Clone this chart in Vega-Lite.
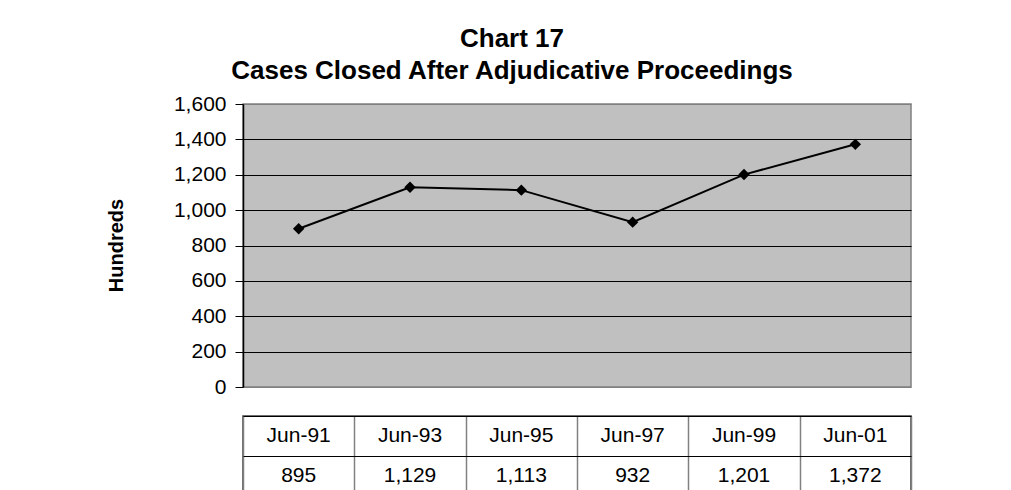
{
  "$schema": "https://vega.github.io/schema/vega-lite/v6.json",
  "background": "white",
  "padding": {"left": 105, "top": 26, "right": 5, "bottom": 0},
  "config": {"font": "Liberation Sans", "view": {"stroke": null}},
  "datasets": {
    "rows": [
      {"date": "Jun-91", "value": 895},
      {"date": "Jun-93", "value": 1129},
      {"date": "Jun-95", "value": 1113},
      {"date": "Jun-97", "value": 932},
      {"date": "Jun-99", "value": 1201},
      {"date": "Jun-01", "value": 1372}
    ]
  },
  "title": {
    "text": ["Chart 17", "Cases Closed After Adjudicative Proceedings"],
    "font": "Liberation Sans",
    "fontSize": 26,
    "fontWeight": "bold",
    "color": "black",
    "lineHeight": 32,
    "anchor": "start",
    "align": "center",
    "frame": "group",
    "dx": 269,
    "offset": 8
  },
  "spacing": 17,
  "vconcat": [
    {
      "width": 668,
      "height": 283,
      "data": {"name": "rows"},
      "view": {"fill": "#c0c0c0", "stroke": "#808080", "strokeWidth": 1.5},
      "encoding": {
        "x": {
          "field": "date",
          "type": "ordinal",
          "sort": null,
          "scale": {"padding": 0.5},
          "axis": null
        },
        "y": {
          "field": "value",
          "type": "quantitative",
          "scale": {"domain": [0, 1600], "nice": false},
          "axis": {
            "values": [0, 200, 400, 600, 800, 1000, 1200, 1400, 1600],
            "labelExpr": "format(datum.value, ',')",
            "title": "Hundreds",
            "titleFont": "Liberation Sans",
            "titleFontSize": 20,
            "titleFontWeight": "bold",
            "titleColor": "black",
            "titleX": -127,
            "titleY": 141,
            "titleAngle": 270,
            "titleBaseline": "middle",
            "titleAlign": "center",
            "labelFont": "Liberation Sans",
            "labelFontSize": 21,
            "labelColor": "black",
            "labelPadding": 9,
            "tickSize": 8,
            "tickColor": "black",
            "domainColor": "black",
            "domainWidth": 1.5,
            "grid": true,
            "gridColor": {
              "condition": {"test": "datum.value == 1600 || datum.value == 0", "value": "#808080"},
              "value": "#000000"
            },
            "gridOpacity": 1,
            "gridWidth": 1
          }
        }
      },
      "layer": [
        {"mark": {"type": "line", "color": "black", "strokeWidth": 2}},
        {"mark": {"type": "point", "shape": "diamond", "filled": true, "color": "black", "opacity": 1, "size": 130}}
      ]
    },
    {
      "width": 668,
      "height": 80,
      "data": {"name": "rows"},
      "view": {"fill": "white", "stroke": "#404040", "strokeWidth": 1.5},
      "encoding": {
        "x": {
          "field": "date",
          "type": "nominal",
          "sort": null,
          "scale": {"paddingInner": 0, "paddingOuter": 0},
          "axis": {
            "labels": false,
            "ticks": false,
            "domain": false,
            "title": null,
            "grid": true,
            "gridColor": "#808080",
            "gridWidth": 1.5,
            "tickBand": "extent"
          }
        }
      },
      "layer": [
        {
          "mark": {"type": "text", "font": "Liberation Sans", "fontSize": 21, "color": "black"},
          "encoding": {
            "text": {"field": "date"},
            "y": {
              "datum": "label",
              "type": "nominal",
              "scale": {"domain": ["label", "value"], "paddingInner": 0, "paddingOuter": 0},
              "axis": {
                "labels": false,
                "ticks": false,
                "domain": false,
                "title": null,
                "grid": true,
                "gridColor": "#000000",
                "gridWidth": 1,
                "tickBand": "extent"
              }
            }
          }
        },
        {
          "mark": {"type": "text", "font": "Liberation Sans", "fontSize": 21, "color": "black"},
          "encoding": {
            "text": {"field": "value", "type": "quantitative", "format": ","},
            "y": {"datum": "value", "type": "nominal"}
          }
        }
      ]
    }
  ]
}
